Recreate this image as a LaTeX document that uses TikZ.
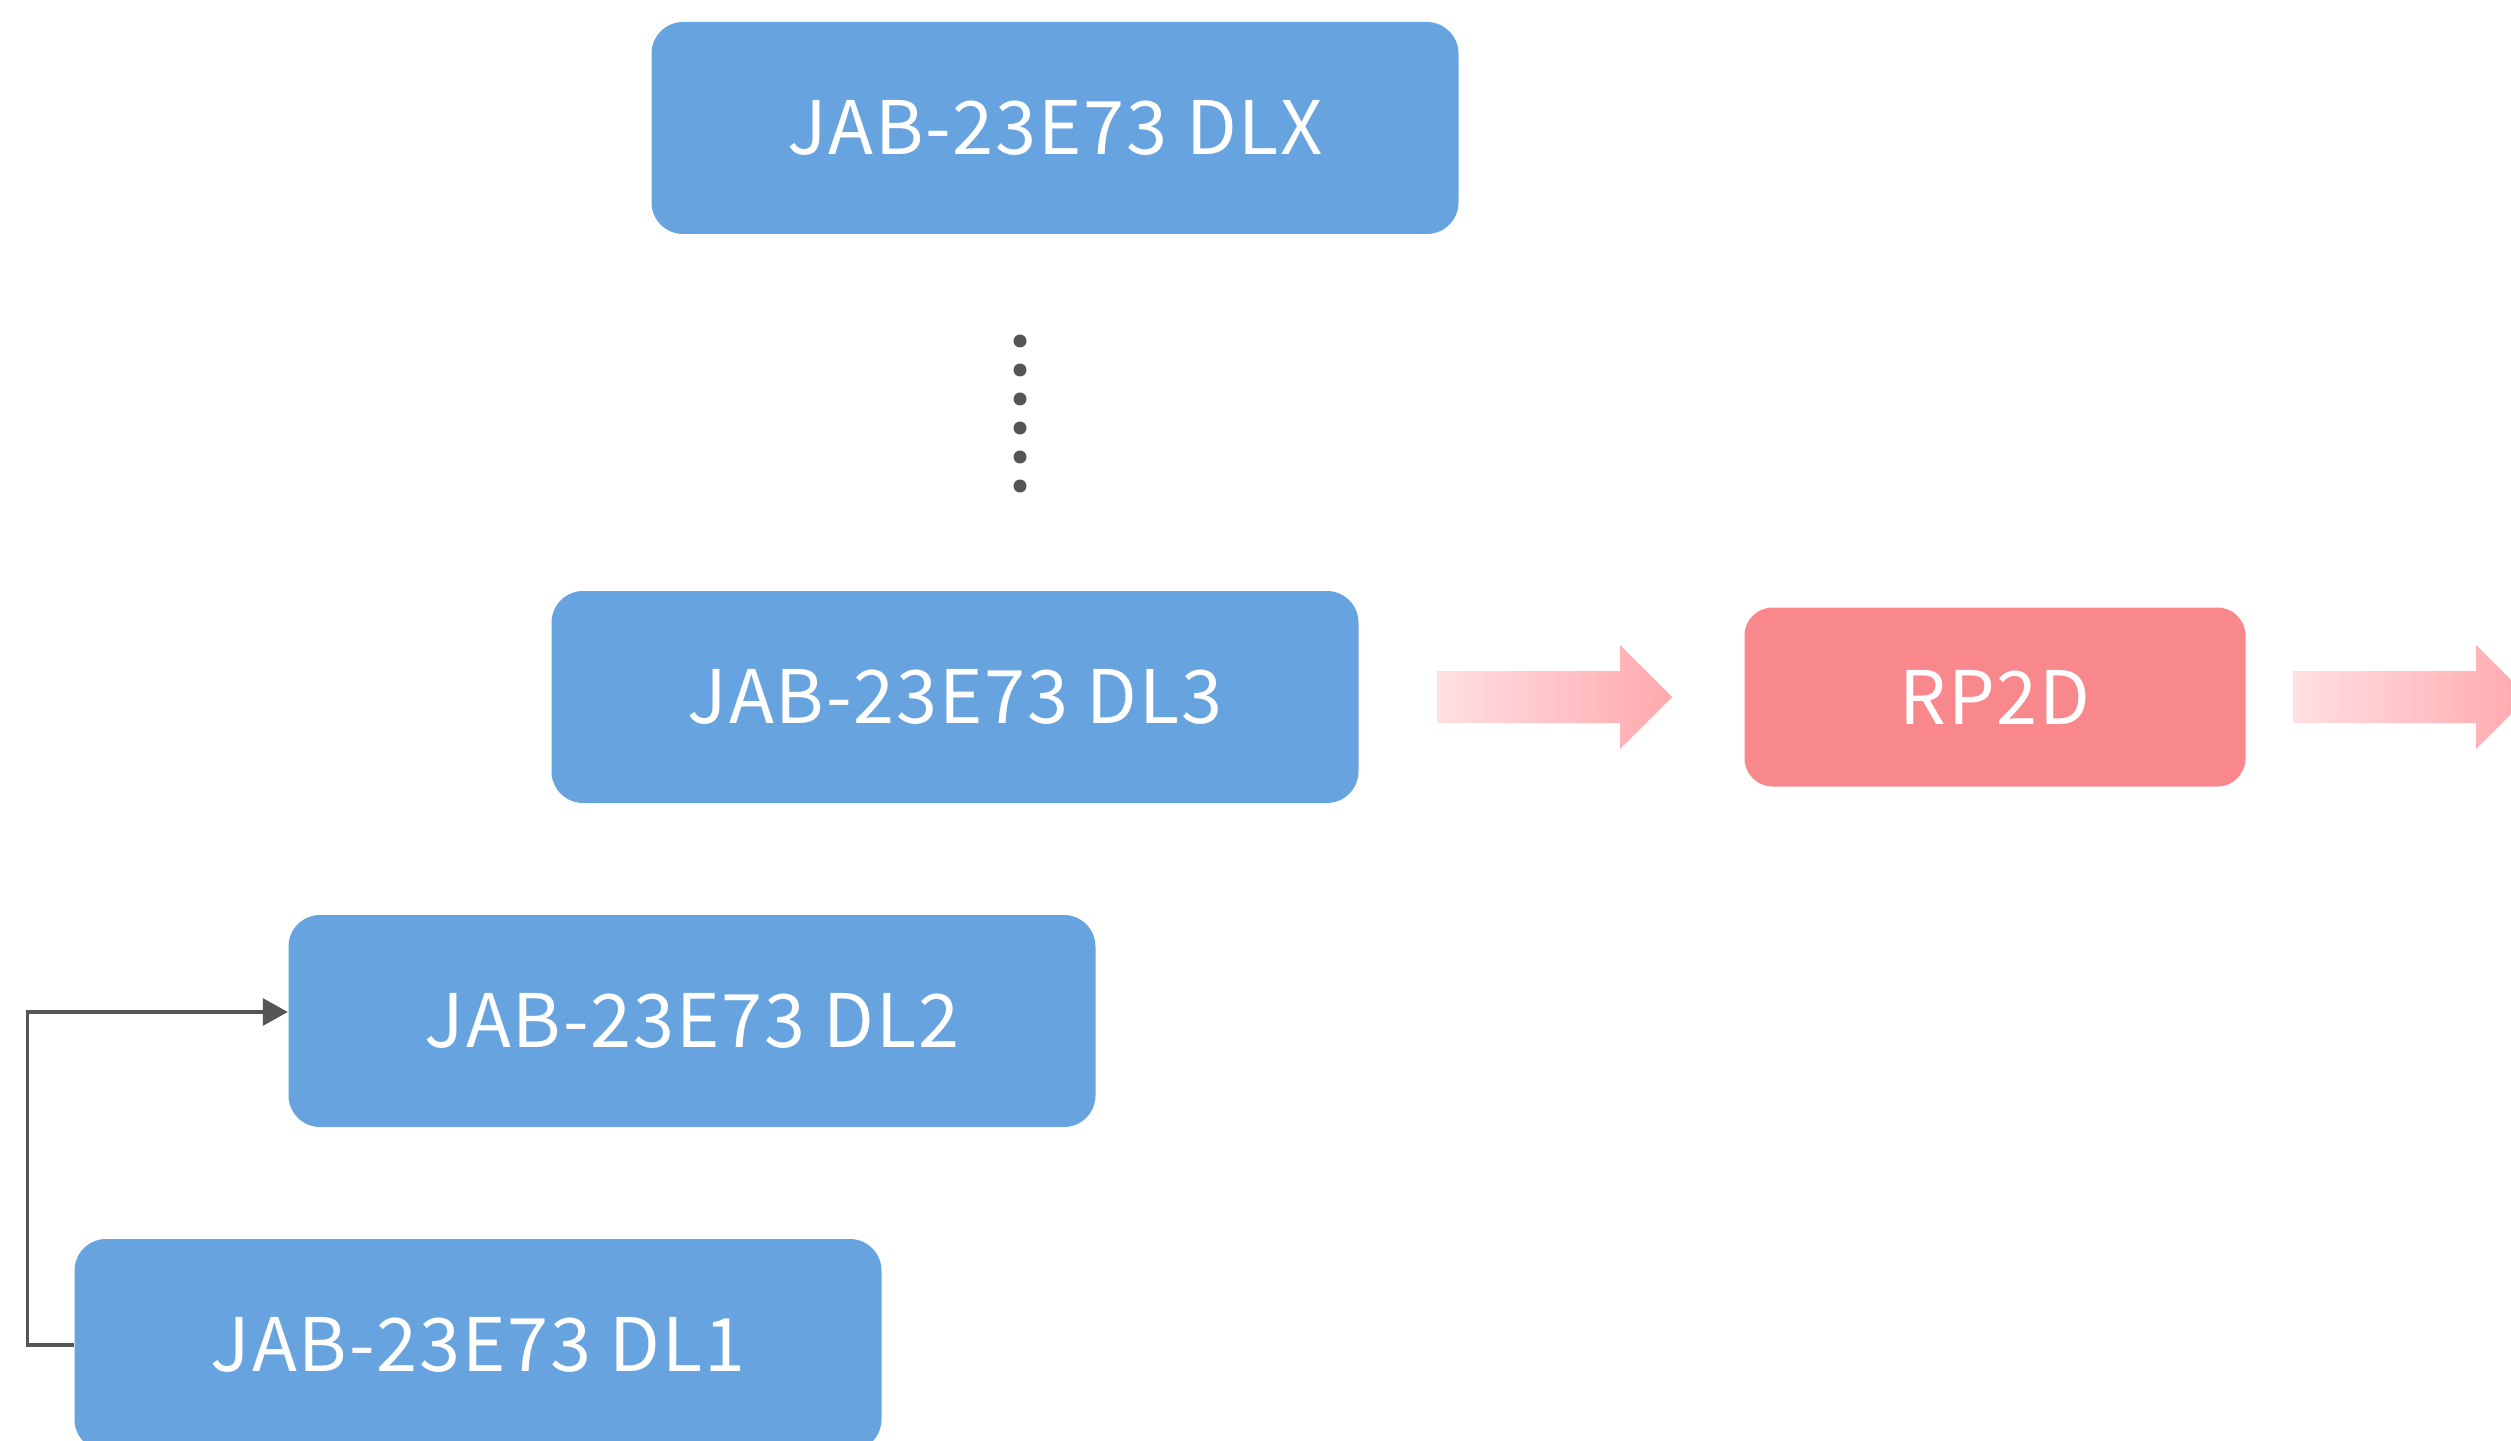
\documentclass[tikz,border=0pt]{standalone}
\usepackage{fontspec}
\newfontfamily\cjk[LetterSpace=2.5]{Noto Sans CJK SC}
\usepackage{tikz}
\usetikzlibrary{arrows.meta,positioning,calc}
\definecolor{boxblue}{HTML}{67A3DE}
\definecolor{boxpink}{HTML}{F8888C}
\definecolor{arrlight}{HTML}{FFE0E3}
\definecolor{arrdark}{HTML}{FFA8AD}
\definecolor{linegray}{HTML}{555555}
% block arrow, #1 = left end of the shaft
\newcommand{\blockarrow}[1]{%
  \shade[left color=arrlight, right color=arrdark]
    ($(#1)+(0,0.26)$) -- ++(1.83,0) -- ++(0,0.26) -- ++(0.52,-0.52)
    -- ++(-0.52,-0.52) -- ++(0,0.26) -- ++(-1.83,0) -- cycle;}

\begin{document}
\begin{tikzpicture}[
  font=\cjk\fontsize{21}{25}\selectfont,
  blk/.style={fill=boxblue, text=white, rounded corners=9pt, inner sep=0pt,
              minimum width=8.07cm, minimum height=2.12cm},
  rp/.style={blk, fill=boxpink, rounded corners=8pt,
             minimum width=5.01cm, minimum height=1.79cm},
  e/.style={-{Triangle[length=2.5mm,width=2.7mm]}, draw=linegray,
            line width=0.9pt},
]
\useasboundingbox (0,0) rectangle (25.11,-14.41);
\node[blk] (dlx) at (10.55,-1.28) {JAB-23E73 DLX};
\node[blk] (dl3) at (9.55,-6.97) {JAB-23E73 DL3};
\node[blk] (dl2) at (6.92,-10.21) {JAB-23E73 DL2};
\node[blk] (dl1) at (4.78,-13.45) {JAB-23E73 DL1};
\node[rp] (rp2d) at (19.95,-6.97) {RP2D};
% vertical ellipsis between DLX and DL3
\foreach \i in {0,...,5}
  \fill[linegray] (10.20,-3.41-0.29*\i) circle (0.065);
\coordinate (a1) at ($(dl3.east)+(0.78,0)$);
\coordinate (a2) at ($(rp2d.east)+(0.47,0)$);
\blockarrow{a1}
\blockarrow{a2}
\draw[e] (dl1.west) -- ++(-0.46,0) |- ([yshift=0.09cm]dl2.west);
\end{tikzpicture}
\end{document}
